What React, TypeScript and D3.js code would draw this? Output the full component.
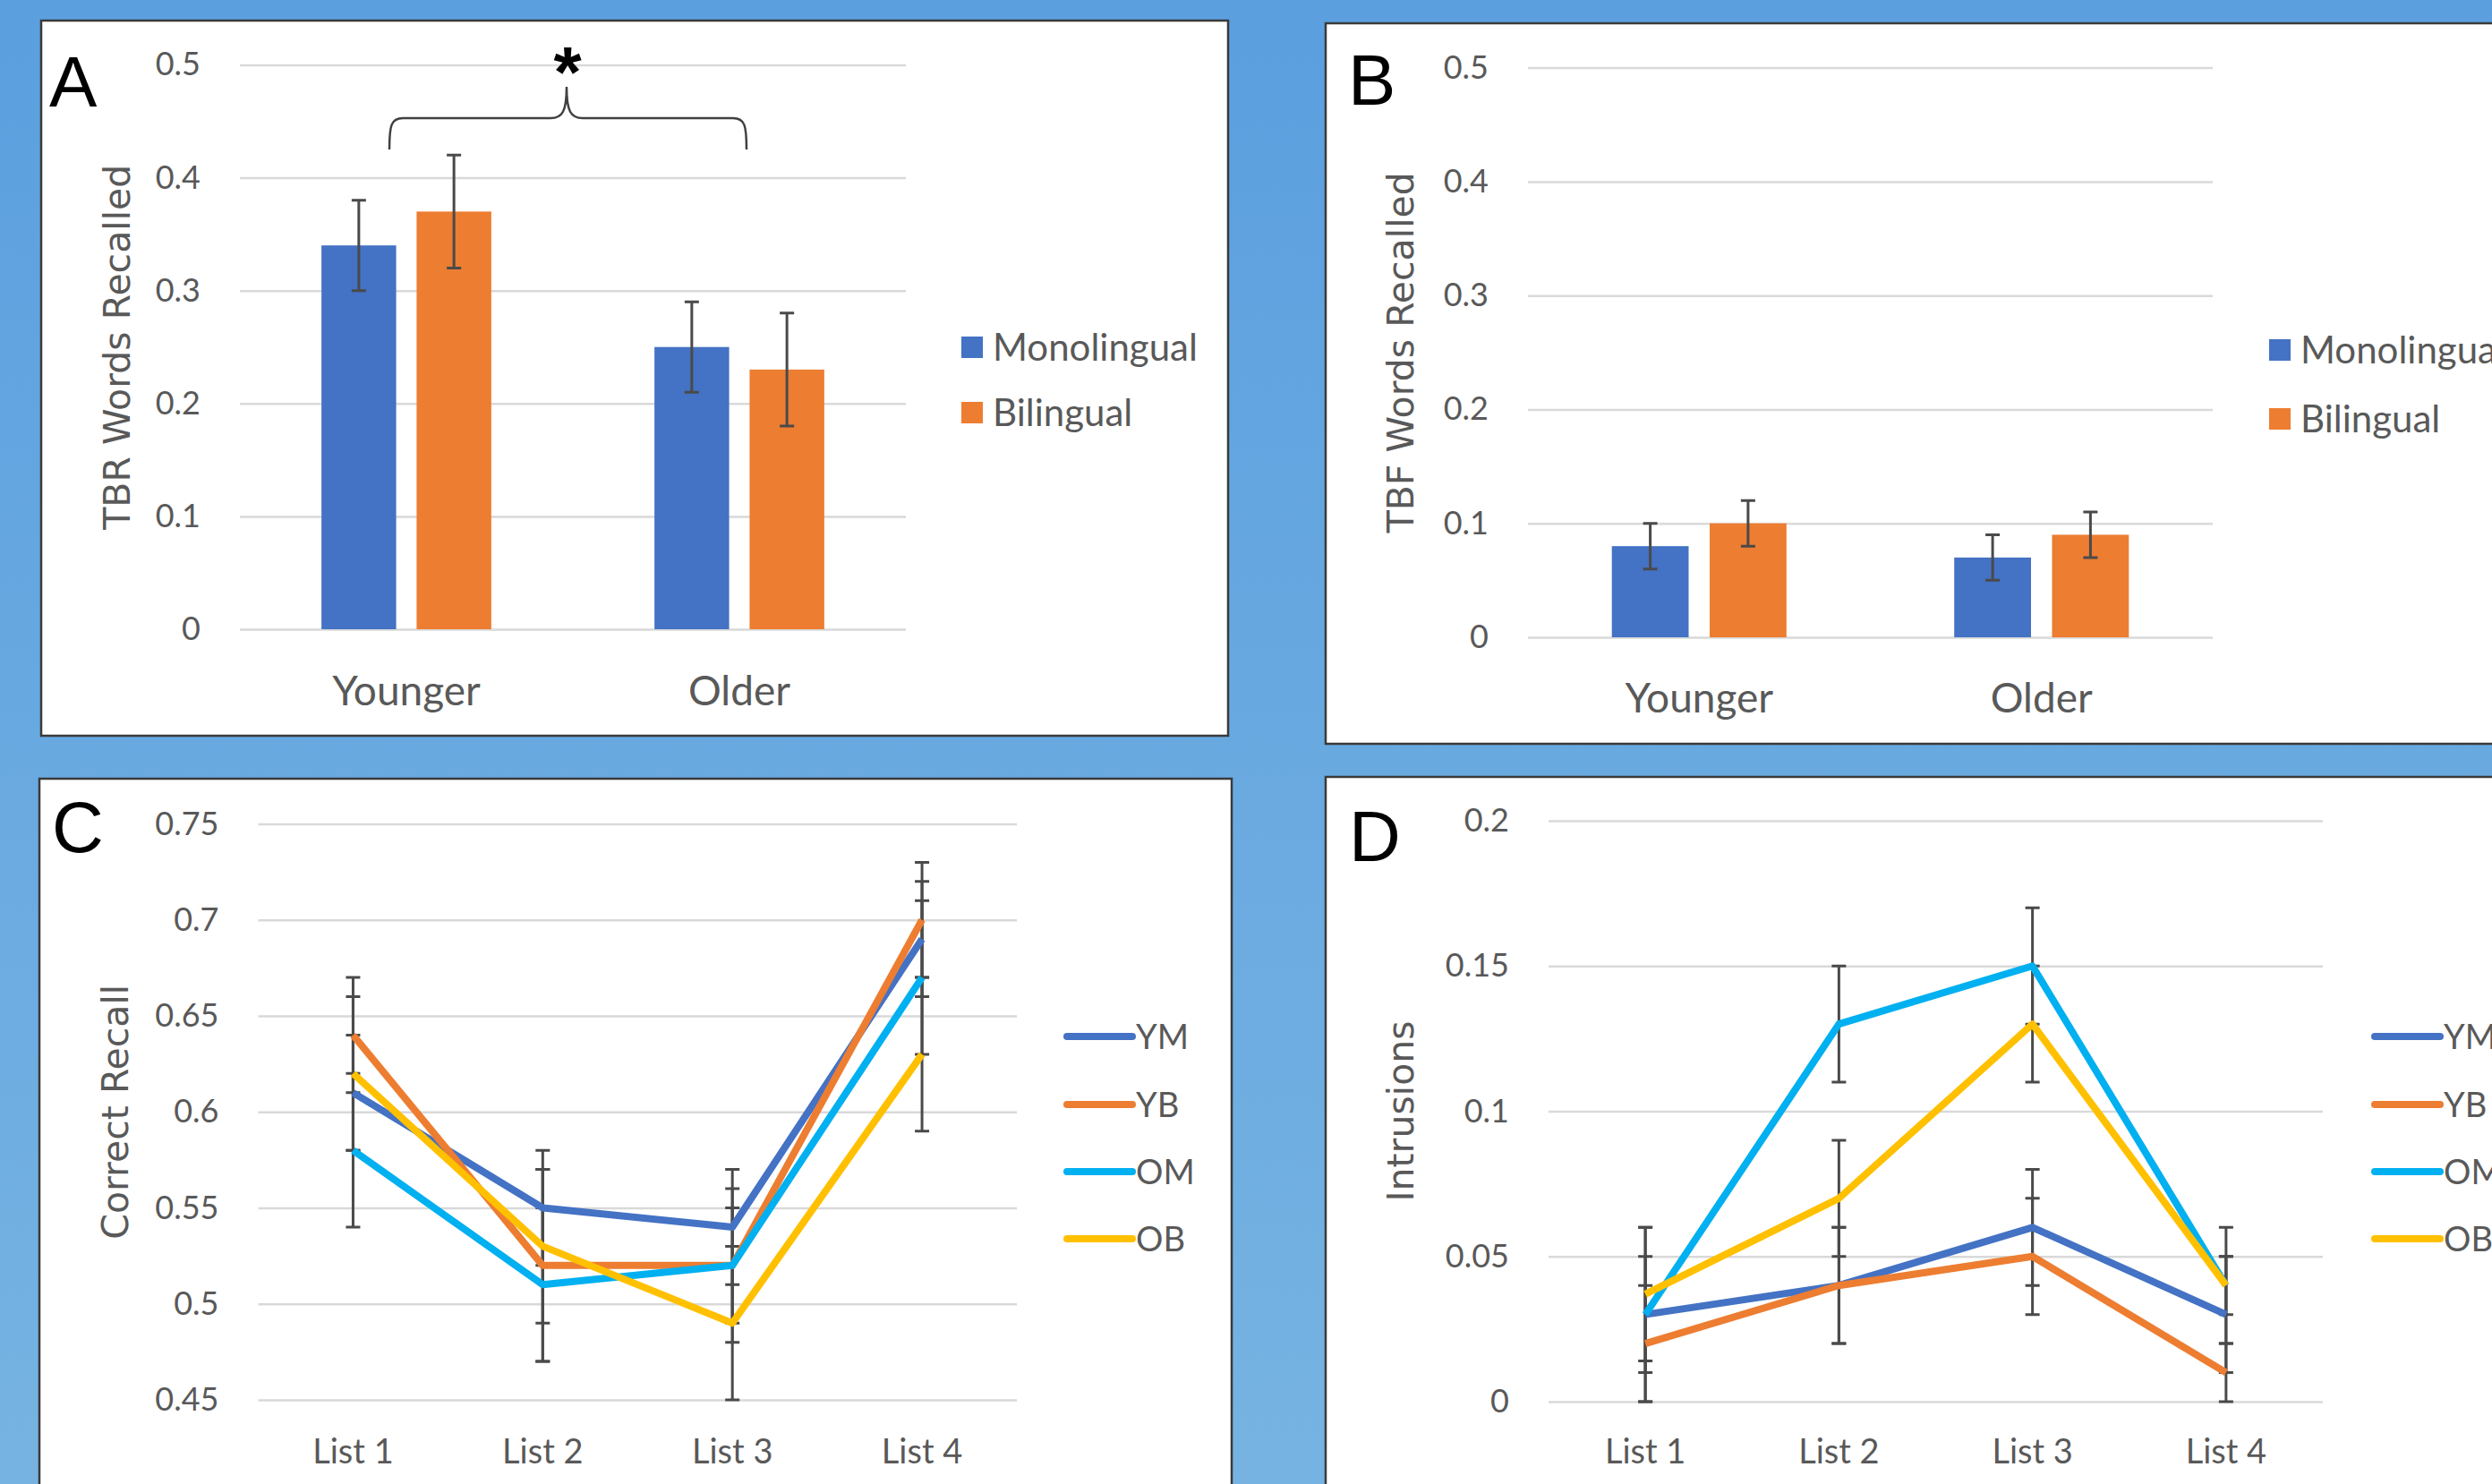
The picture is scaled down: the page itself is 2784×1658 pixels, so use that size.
import React, { useEffect, useRef } from 'react';
import * as d3 from 'd3';

// categories and series
const ageGroups = ['Younger', 'Older'];
const languageGroups = ['Monolingual', 'Bilingual'];
const lists = ['List 1', 'List 2', 'List 3', 'List 4'];
const groupCodes = ['YM', 'YB', 'OM', 'OB'];

// A: TBR words recalled
const tbrMonolingual = [0.34, 0.25];
const tbrBilingual = [0.37, 0.23];
const tbrMonolingualErr = [0.04, 0.04];
const tbrBilingualErr = [0.05, 0.05];
const tbrTicks = [0, 0.1, 0.2, 0.3, 0.4, 0.5];

// B: TBF words recalled
const tbfMonolingual = [0.08, 0.07];
const tbfBilingual = [0.1, 0.09];
const tbfMonolingualErr = [0.02, 0.02];
const tbfBilingualErr = [0.02, 0.02];
const tbfTicks = [0, 0.1, 0.2, 0.3, 0.4, 0.5];

// C: correct recall by list
const recallYM = [0.61, 0.55, 0.54, 0.69];
const recallYB = [0.64, 0.52, 0.52, 0.7];
const recallOM = [0.58, 0.51, 0.52, 0.67];
const recallOB = [0.62, 0.53, 0.49, 0.63];
const recallYMErr = [0.03, 0.03, 0.03, 0.03];
const recallYBErr = [0.03, 0.05, 0.04, 0.03];
const recallOMErr = [0.04, 0.04, 0.03, 0.04];
const recallOBErr = [0.04, 0.04, 0.04, 0.04];
const recallTicks = [0.45, 0.5, 0.55, 0.6, 0.65, 0.7, 0.75];

// D: intrusions by list
const intrusionsYM = [0.03, 0.04, 0.06, 0.03];
const intrusionsYB = [0.02, 0.04, 0.05, 0.01];
const intrusionsOM = [0.03, 0.13, 0.15, 0.04];
const intrusionsOB = [0.037, 0.07, 0.13, 0.04];
const intrusionsYMErr = [0.02, 0.02, 0.02, 0.02];
const intrusionsYBErr = [0.02, 0.02, 0.02, 0.01];
const intrusionsOMErr = [0.03, 0.02, 0.02, 0.02];
const intrusionsOBErr = [0.023, 0.02, 0.02, 0.01];
const intrusionTicks = [0, 0.05, 0.1, 0.15, 0.2];

const barColors = ['#4472C4', '#ED7D31'];
const lineColors = ['#4472C4', '#ED7D31', '#00B0F0', '#FFC000'];

const FONT = 'Lato, "Open Sans", sans-serif';
const TITLE_FONT = '"DejaVu Sans", Verdana, sans-serif';
const TEXT = '#595959';
const GRID = '#D9D9D9';
const ERR = '#4a4a4a';

type Sel = d3.Selection<SVGSVGElement, unknown, null, undefined>;

interface PanelOpts {
    left: number;
    right: number;
    top: number;
    bottom: number;
    ticks: number[];
    title: string;
    titleX: number;
    catY: number;
    legendX: number;
    legendY: number[];
}

function drawGrid(svg: Sel, y: d3.ScaleLinear<number, number>, o: PanelOpts) {
    const g = svg.append('g')
        .attr('transform', `translate(${o.left},0)`)
        .call(d3.axisLeft(y).tickValues(o.ticks).tickSize(-(o.right - o.left)).tickPadding(44).tickFormat(d => String(d)));
    g.select('.domain').remove();
    g.selectAll('.tick line').attr('stroke', GRID).attr('stroke-width', 2.5);
    g.selectAll('.tick text')
        .attr('font-size', 36)
        .attr('font-family', FONT)
        .attr('fill', TEXT);

    svg.append('text')
        .attr('transform', `translate(${o.titleX},${(o.top + o.bottom) / 2}) rotate(-90)`)
        .attr('text-anchor', 'middle')
        .attr('dy', '0.35em')
        .attr('font-family', TITLE_FONT)
        .attr('font-size', 41)
        .attr('fill', TEXT)
        .text(o.title);
}

function errorBar(svg: Sel, x: number, yTop: number, yBot: number) {
    const cap = 8;
    svg.append('path')
        .attr('d', `M${x},${yTop}V${yBot}M${x - cap},${yTop}H${x + cap}M${x - cap},${yBot}H${x + cap}`)
        .attr('stroke', ERR)
        .attr('stroke-width', 3)
        .attr('fill', 'none');
}

function drawBarPanel(svg: Sel, o: PanelOpts, values: number[][], errors: number[][]) {
    const y = d3.scaleLinear().domain([o.ticks[0], o.ticks[o.ticks.length - 1]]).range([o.bottom, o.top]);
    const x0 = d3.scaleBand().domain(ageGroups).range([o.left, o.right]).paddingInner(0.49).paddingOuter(0.245);
    const x1 = d3.scaleBand().domain(languageGroups).range([0, x0.bandwidth()]).paddingInner(0.215);

    drawGrid(svg, y, o);

    languageGroups.forEach((lang, si) => {
        ageGroups.forEach((age, ci) => {
            const v = values[si][ci];
            const bx = x0(age)! + x1(lang)!;
            svg.append('rect')
                .attr('x', bx)
                .attr('y', y(v))
                .attr('width', x1.bandwidth())
                .attr('height', y(o.ticks[0]) - y(v))
                .attr('fill', barColors[si]);
        });
    });
    languageGroups.forEach((lang, si) => {
        ageGroups.forEach((age, ci) => {
            const v = values[si][ci];
            const e = errors[si][ci];
            const cx = x0(age)! + x1(lang)! + x1.bandwidth() / 2;
            errorBar(svg, cx, y(v + e), y(v - e));
        });
    });

    ageGroups.forEach(age => {
        svg.append('text')
            .attr('x', x0(age)! + x0.bandwidth() / 2)
            .attr('y', o.catY)
            .attr('dy', '0.35em')
            .attr('text-anchor', 'middle')
            .attr('font-family', FONT)
            .attr('font-size', 46)
            .attr('fill', TEXT)
            .text(age);
    });

    languageGroups.forEach((lang, si) => {
        svg.append('rect')
            .attr('x', o.legendX)
            .attr('y', o.legendY[si] - 12)
            .attr('width', 24)
            .attr('height', 24)
            .attr('fill', barColors[si]);
        svg.append('text')
            .attr('x', o.legendX + 35)
            .attr('y', o.legendY[si])
            .attr('dy', '0.36em')
            .attr('font-family', FONT)
            .attr('font-size', 42)
            .attr('fill', TEXT)
            .text(lang);
    });
}

function drawLinePanel(svg: Sel, o: PanelOpts, values: number[][], errors: number[][]) {
    const y = d3.scaleLinear().domain([o.ticks[0], o.ticks[o.ticks.length - 1]]).range([o.bottom, o.top]);
    const x = d3.scalePoint().domain(lists).range([o.left, o.right]).padding(0.5);

    drawGrid(svg, y, o);

    values.forEach((vals, si) => {
        vals.forEach((v, i) => {
            const e = errors[si][i];
            errorBar(svg, x(lists[i])!, y(v + e), y(v - e));
        });
    });

    const line = d3.line<number>()
        .x((_, i) => x(lists[i])!)
        .y(d => y(d));

    values.forEach((vals, si) => {
        svg.append('path')
            .attr('d', line(vals)!)
            .attr('fill', 'none')
            .attr('stroke', lineColors[si])
            .attr('stroke-width', 8)
            .attr('stroke-linejoin', 'round');
    });

    lists.forEach(l => {
        svg.append('text')
            .attr('x', x(l)!)
            .attr('y', o.catY)
            .attr('dy', '0.35em')
            .attr('text-anchor', 'middle')
            .attr('font-family', FONT)
            .attr('font-size', 38)
            .attr('fill', TEXT)
            .text(l);
    });

    groupCodes.forEach((code, si) => {
        svg.append('line')
            .attr('x1', o.legendX)
            .attr('x2', o.legendX + 73)
            .attr('y1', o.legendY[si])
            .attr('y2', o.legendY[si])
            .attr('stroke', lineColors[si])
            .attr('stroke-width', 8)
            .attr('stroke-linecap', 'round');
        svg.append('text')
            .attr('x', o.legendX + 77)
            .attr('y', o.legendY[si])
            .attr('dy', '0.36em')
            .attr('font-family', FONT)
            .attr('font-size', 38)
            .attr('fill', TEXT)
            .text(code);
    });
}

const App: React.FC = () => {
    const svgRef = useRef<SVGSVGElement | null>(null);

    useEffect(() => {
        document.body.style.margin = '0';
        document.body.style.overflow = 'hidden';
        const width = 2784;
        const height = 1658;
        const svg = d3.select(svgRef.current!) as Sel;
        svg.selectAll('*').remove();
        svg.attr('width', width).attr('height', height);

        // blue backdrop
        const grad = svg.append('defs').append('linearGradient')
            .attr('id', 'bg').attr('x1', '0').attr('y1', '0').attr('x2', '0').attr('y2', '1');
        grad.append('stop').attr('offset', '0%').attr('stop-color', '#5B9FDF');
        grad.append('stop').attr('offset', '100%').attr('stop-color', '#76B3E2');
        svg.append('rect').attr('width', width).attr('height', height).attr('fill', 'url(#bg)');

        // panel frames
        const frames = [
            { x: 46, y: 23, w: 1326, h: 799, letter: 'A', lx: 55, ly: 119 },
            { x: 1481, y: 26, w: 1400, h: 805, letter: 'B', lx: 1506, ly: 117 },
            { x: 44, y: 870, w: 1332, h: 900, letter: 'C', lx: 58, ly: 952 },
            { x: 1481, y: 868, w: 1400, h: 900, letter: 'D', lx: 1507, ly: 962 },
        ];
        frames.forEach(f => {
            svg.append('rect')
                .attr('x', f.x).attr('y', f.y).attr('width', f.w).attr('height', f.h)
                .attr('fill', '#ffffff').attr('stroke', '#3a3a3a').attr('stroke-width', 2.5);
        });

        drawBarPanel(svg, {
            left: 268, right: 1012, top: 72.4, bottom: 703,
            ticks: tbrTicks, title: 'TBR Words Recalled', titleX: 131, catY: 772,
            legendX: 1074, legendY: [388, 461],
        }, [tbrMonolingual, tbrBilingual], [tbrMonolingualErr, tbrBilingualErr]);

        drawBarPanel(svg, {
            left: 1707, right: 2472, top: 75.6, bottom: 712,
            ticks: tbfTicks, title: 'TBF Words Recalled', titleX: 1565, catY: 780,
            legendX: 2535, legendY: [391, 468],
        }, [tbfMonolingual, tbfBilingual], [tbfMonolingualErr, tbfBilingualErr]);

        drawLinePanel(svg, {
            left: 288.5, right: 1136, top: 920.5, bottom: 1564,
            ticks: recallTicks, title: 'Correct Recall', titleX: 129, catY: 1622,
            legendX: 1192, legendY: [1158, 1234, 1309, 1384],
        }, [recallYM, recallYB, recallOM, recallOB], [recallYMErr, recallYBErr, recallOMErr, recallOBErr]);

        drawLinePanel(svg, {
            left: 1730, right: 2595, top: 917, bottom: 1566,
            ticks: intrusionTicks, title: 'Intrusions', titleX: 1565, catY: 1622,
            legendX: 2653, legendY: [1158, 1234, 1309, 1384],
        }, [intrusionsYM, intrusionsYB, intrusionsOM, intrusionsOB],
            [intrusionsYMErr, intrusionsYBErr, intrusionsOMErr, intrusionsOBErr]);

        // panel letters
        frames.forEach(f => {
            svg.append('text')
                .attr('x', f.lx).attr('y', f.ly)
                .attr('font-family', '"Liberation Sans", Arial, sans-serif')
                .attr('font-size', 80)
                .attr('fill', '#000')
                .text(f.letter);
        });

        // significance brace between age groups in A
        svg.append('path')
            .attr('d', 'M435,167 C435,140 437,132 450,132 L615,132 C628,132 633,125 633,97 C633,125 638,132 651,132 L819,132 C832,132 834,140 834,167')
            .attr('fill', 'none')
            .attr('stroke', '#404040')
            .attr('stroke-width', 2.5);
        svg.append('text')
            .attr('x', 634).attr('y', 108)
            .attr('text-anchor', 'middle')
            .attr('font-family', '"Liberation Sans", Arial, sans-serif')
            .attr('font-weight', 'bold')
            .attr('font-size', 80)
            .attr('fill', '#000')
            .text('*');
    }, []);

    return <svg ref={svgRef} style={{ display: 'block' }}></svg>;
};

export default App;
